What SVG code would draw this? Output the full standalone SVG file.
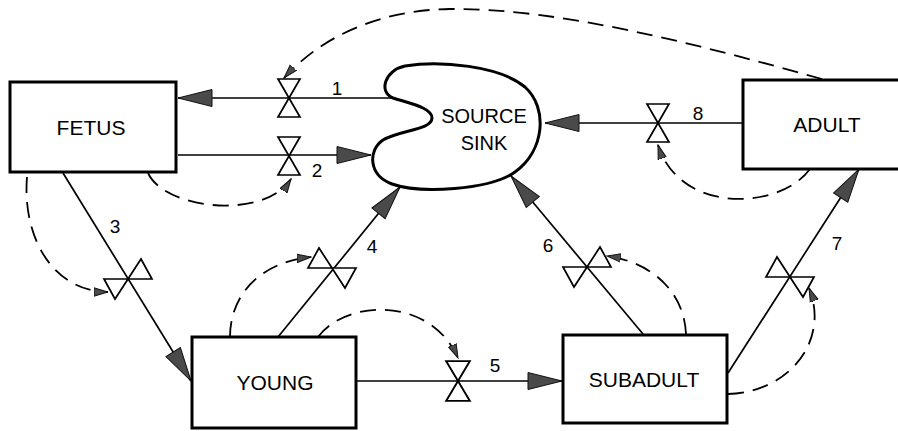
<svg xmlns="http://www.w3.org/2000/svg" width="898" height="431" viewBox="0 0 898 431">
<style>
.box{fill:#fff;stroke:#000;stroke-width:3}
.lbl{font-family:"Liberation Sans",Arial,sans-serif;font-size:21px;fill:#000;text-anchor:middle}
.num{font-family:"Liberation Sans",Arial,sans-serif;font-size:19px;fill:#000;text-anchor:middle}
.flow{fill:none;stroke:#000;stroke-width:1.7;marker-end:url(#big)}
.info{fill:none;stroke:#000;stroke-width:1.8;stroke-dasharray:16 9;marker-end:url(#small)}
.valve{fill:#fff;stroke:#000;stroke-width:1.7;stroke-linejoin:miter}
</style>
<defs>
<marker id="big" markerWidth="36" markerHeight="20" refX="35" refY="10" orient="auto" markerUnits="userSpaceOnUse">
<path d="M1,1.5 L35,10 L1,18.5 Z" fill="#4a4a4a" stroke="#111" stroke-width="1"/>
</marker>
<marker id="small" markerWidth="15" markerHeight="10" refX="14" refY="5" orient="auto" markerUnits="userSpaceOnUse">
<path d="M0,0.8 L14,5 L0,9.2 Z" fill="#4a4a4a" stroke="#111" stroke-width="1"/>
</marker>
<path id="vh" d="M-11,-19 H11 L-11,19 H11 Z"/>
<path id="vs" d="M0,0 H-24 L-13,-20 Z M0,0 H24 L13,20 Z"/>
<path id="vb" d="M0,0 H24 L13,-20 Z M0,0 H-24 L-13,20 Z"/>
</defs>

<g id="connectors">
<path class="flow" d="M393,98 L178,98"/>
<path class="flow" d="M178,155 L371,155"/>
<path class="flow" d="M63,173 L191,381"/>
<path class="flow" d="M278,337 L400,187"/>
<path class="flow" d="M357,381 L562,381"/>
<path class="flow" d="M643,334 L511,176"/>
<path class="flow" d="M728,373 L859,169"/>
<path class="flow" d="M743,123 L545,123"/>

<path class="info" d="M822,79 C700,45 560,8 450,9 C380,10 322,36 284,78"/>
<path class="info" d="M148,173 C165,210 265,220 291,179"/>
<path class="info" d="M27,177 C22,240 55,292 108,292"/>
<path class="info" d="M230,337 C230,295 260,262 311,257"/>
<path class="info" d="M318,337 C345,300 430,295 458,358"/>
<path class="info" d="M686,334 C684,290 650,262 607,256"/>
<path class="info" d="M728,394 C790,392 830,340 809,288"/>
<path class="info" d="M810,169 C780,210 680,215 658,145"/>

<use href="#vh" class="valve" transform="translate(289,98)"/>
<use href="#vh" class="valve" transform="translate(289,156)"/>
<use href="#vh" class="valve" transform="translate(658,123)"/>
<use href="#vh" class="valve" transform="translate(458,381) scale(1.08,1.05)"/>
<use href="#vb" class="valve" transform="translate(128,279)"/>
<use href="#vs" class="valve" transform="translate(332,268)"/>
<use href="#vb" class="valve" transform="translate(587,267)"/>
<use href="#vs" class="valve" transform="translate(790,277)"/>

<text class="num" x="337" y="95">1</text>
<text class="num" x="317" y="177">2</text>
<text class="num" x="115" y="233">3</text>
<text class="num" x="372" y="253">4</text>
<text class="num" x="495" y="372">5</text>
<text class="num" x="548" y="252">6</text>
<text class="num" x="837" y="250">7</text>
<text class="num" x="698" y="120">8</text>
</g>

<g id="fetus">
<rect class="box" x="10" y="82" width="166" height="90"/>
<text class="lbl" x="91" y="135">FETUS</text>
</g>
<g id="source-sink">
<path d="M393,98 C412,104 432,108 432,118 C432,130 400,130 383,140 C368,150 368,175 392,184 C420,194 490,190 515,172 C545,150 548,108 525,87 C500,66 440,60 405,66 C385,70 378,92 393,98 Z" fill="#fff" stroke="#000" stroke-width="3"/>
<text class="lbl" x="484" y="123" style="font-size:20px">SOURCE</text>
<text class="lbl" x="484" y="150" style="font-size:20px">SINK</text>
</g>
<g id="adult">
<rect class="box" x="743" y="80" width="170" height="89"/>
<text class="lbl" x="827" y="132">ADULT</text>
</g>
<g id="young">
<rect class="box" x="192" y="337" width="164" height="91"/>
<text class="lbl" x="275" y="390">YOUNG</text>
</g>
<g id="subadult">
<rect class="box" x="563" y="335" width="164" height="88"/>
<text class="lbl" x="644" y="387">SUBADULT</text>
</g>
</svg>
